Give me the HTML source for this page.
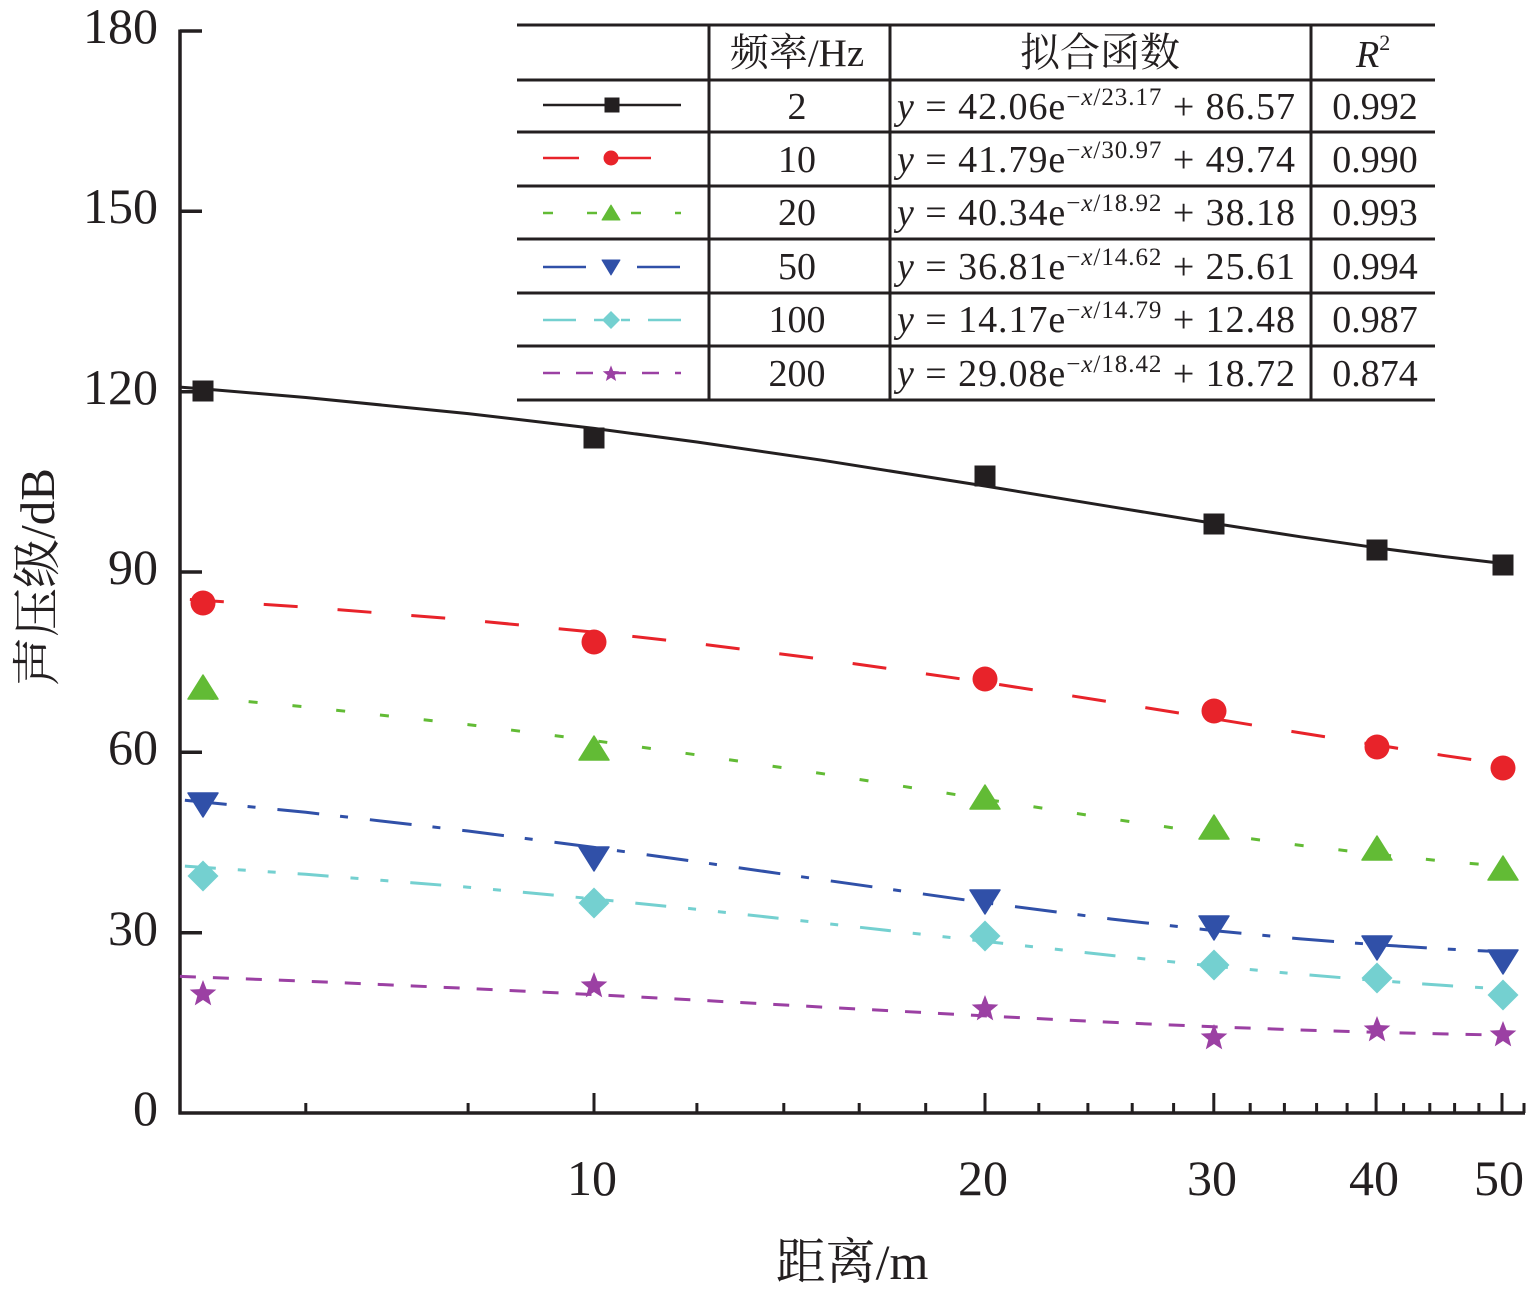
<!DOCTYPE html>
<html>
<head>
<meta charset="utf-8">
<style>
  html,body{margin:0;padding:0;background:#fff;}
  svg{display:block;}
  text{font-family:"Liberation Serif","Noto Serif CJK SC","Noto Sans CJK SC",serif;fill:#231f20;}
</style>
</head>
<body>
<svg width="1535" height="1296" viewBox="0 0 1535 1296" xmlns="http://www.w3.org/2000/svg">
<defs>
  <rect id="sq" x="-10.5" y="-10.5" width="21" height="21"/>
  <circle id="ci" cx="0" cy="0" r="12.5"/>
  <polygon id="tu" points="0,-12 15,12 -15,12" stroke-linejoin="round"/>
  <polygon id="td" points="0,12 15,-12 -15,-12" stroke-linejoin="round"/>
  <polygon id="di" points="0,-15.5 15.5,0 0,15.5 -15.5,0"/>
  <polygon id="st" points="0,-14 3.527,-4.854 13.315,-4.326 5.706,1.854 8.229,11.326 0,6 -8.229,11.326 -5.706,1.854 -13.315,-4.326 -3.527,-4.854"/>
</defs>
<rect width="1535" height="1296" fill="#fff"/>

<!-- Axes -->
<g stroke="#231f20" stroke-width="3.5" fill="none">
  <line x1="180" y1="29.5" x2="180" y2="1114.5"/>
  <line x1="178.5" y1="1113" x2="1525" y2="1113"/>
  <line x1="180" y1="31" x2="202" y2="31"/>
  <line x1="180" y1="211.3" x2="202" y2="211.3"/>
  <line x1="180" y1="391.7" x2="202" y2="391.7"/>
  <line x1="180" y1="572" x2="202" y2="572"/>
  <line x1="180" y1="752.3" x2="202" y2="752.3"/>
  <line x1="180" y1="932.7" x2="202" y2="932.7"/>
</g>
<g stroke="#231f20" stroke-width="3" fill="none">
  <line x1="594" y1="1113" x2="594" y2="1093"/>
  <line x1="985" y1="1113" x2="985" y2="1093"/>
  <line x1="1213.8" y1="1113" x2="1213.8" y2="1093"/>
  <line x1="1376.1" y1="1113" x2="1376.1" y2="1093"/>
  <line x1="1502" y1="1113" x2="1502" y2="1093"/>
  <line x1="305.8" y1="1113" x2="305.8" y2="1103"/>
  <line x1="468.1" y1="1113" x2="468.1" y2="1103"/>
  <line x1="696.9" y1="1113" x2="696.9" y2="1103"/>
  <line x1="783.8" y1="1113" x2="783.8" y2="1103"/>
  <line x1="859.2" y1="1113" x2="859.2" y2="1103"/>
  <line x1="925.7" y1="1113" x2="925.7" y2="1103"/>
  <line x1="1038.8" y1="1113" x2="1038.8" y2="1103"/>
  <line x1="1087.9" y1="1113" x2="1087.9" y2="1103"/>
  <line x1="1132.2" y1="1113" x2="1132.2" y2="1103"/>
  <line x1="1173.6" y1="1113" x2="1173.6" y2="1103"/>
  <line x1="1250.2" y1="1113" x2="1250.2" y2="1103"/>
  <line x1="1284.4" y1="1113" x2="1284.4" y2="1103"/>
  <line x1="1316.6" y1="1113" x2="1316.6" y2="1103"/>
  <line x1="1347.1" y1="1113" x2="1347.1" y2="1103"/>
  <line x1="1403.6" y1="1113" x2="1403.6" y2="1103"/>
  <line x1="1429.8" y1="1113" x2="1429.8" y2="1103"/>
  <line x1="1454.6" y1="1113" x2="1454.6" y2="1103"/>
  <line x1="1478.9" y1="1113" x2="1478.9" y2="1103"/>
  <line x1="1524" y1="1113" x2="1524" y2="1103"/>
</g>

<!-- Y tick labels -->
<g font-size="50" text-anchor="end">
  <text x="158" y="43">180</text>
  <text x="158" y="223">150</text>
  <text x="158" y="404">120</text>
  <text x="158" y="584">90</text>
  <text x="158" y="764">60</text>
  <text x="158" y="945">30</text>
  <text x="158" y="1125">0</text>
</g>
<!-- X tick labels -->
<g font-size="50" text-anchor="middle">
  <text x="592" y="1195">10</text>
  <text x="983" y="1195">20</text>
  <text x="1212" y="1195">30</text>
  <text x="1374" y="1195">40</text>
  <text x="1499" y="1195">50</text>
</g>

<!-- Axis titles -->
<text x="852" y="1279" font-size="50" text-anchor="middle">距离/m</text>
<text transform="translate(54,577) rotate(-90)" font-size="49" text-anchor="middle">声压级/dB</text>

<!-- Curves -->
<g fill="none" stroke-width="3">
  <polyline stroke="#231f20" points="179.9,387.1 203,388.9 305.8,397.5 468.1,413.6 594,428.4 696.9,442.0 822.7,460.3 985,486.0 1110.9,506.7 1213.8,523.4 1300.7,536.8 1376.1,547.7 1442.5,556.4 1502,563.4"/>
  <polyline stroke="#e8232a" stroke-dasharray="34 40" stroke-dashoffset="-10" points="179.9,598.9 305.8,607.1 468.1,620.0 594,632.1 696.9,643.5 822.7,659.2 985,682.3 1110.9,702.0 1213.8,718.7 1300.7,732.9 1376.1,744.9 1442.5,755.3 1502,764.0"/>
  <polyline stroke="#62bb35" stroke-dasharray="9 35" stroke-dashoffset="-25" points="179.9,695.4 305.8,706.9 468.1,724.6 594,740.6 696.9,754.9 822.7,773.7 985,799.2 1110.9,818.8 1213.8,833.8 1300.7,845.4 1376.1,854.2 1442.5,861.0 1502,866.2"/>
  <polyline stroke="#3050a8" stroke-dasharray="42 21 8 22" stroke-dashoffset="-5" points="179.9,799.7 305.8,812.3 468.1,831.0 594,847.4 696.9,861.7 822.7,879.8 985,902.7 1110.9,919.0 1213.8,930.6 1300.7,938.9 1376.1,944.7 1442.5,948.8 1502,951.8"/>
  <polyline stroke="#74d0d0" stroke-dasharray="31 22 8 22 8 22" stroke-dashoffset="-5" points="179.9,865.8 305.8,874.3 468.1,887.2 594,898.9 696.9,909.3 822.7,923.1 985,941.4 1110.9,955.4 1213.8,966.2 1300.7,974.3 1376.1,980.5 1442.5,985.3 1502,988.9"/>
  <polyline stroke="#9b40a3" stroke-dasharray="16 17" points="179.9,976.4 305.8,981.2 468.1,988.4 594,994.6 696.9,1000.1 822.7,1007.1 985,1015.9 1110.9,1022.3 1213.8,1026.8 1300.7,1030.0 1376.1,1032.3 1442.5,1033.9 1502,1035.1"/>
</g>

<!-- Markers -->
<g fill="#231f20">
  <use href="#sq" x="203" y="391"/><use href="#sq" x="594" y="438"/><use href="#sq" x="985" y="476"/>
  <use href="#sq" x="1214" y="524"/><use href="#sq" x="1377" y="550"/><use href="#sq" x="1503" y="565"/>
</g>
<g fill="#e8232a">
  <use href="#ci" x="203" y="603"/><use href="#ci" x="594" y="642"/><use href="#ci" x="985" y="679"/>
  <use href="#ci" x="1214" y="711"/><use href="#ci" x="1377" y="747"/><use href="#ci" x="1503" y="768"/>
</g>
<g fill="#62bb35" stroke="#62bb35" stroke-width="1.5">
  <use href="#tu" x="203" y="687"/><use href="#tu" x="594" y="748"/><use href="#tu" x="985" y="797"/>
  <use href="#tu" x="1214" y="827"/><use href="#tu" x="1377" y="848"/><use href="#tu" x="1503" y="868"/>
</g>
<g fill="#3050a8" stroke="#3050a8" stroke-width="1.5">
  <use href="#td" x="203" y="805"/><use href="#td" x="594" y="859"/><use href="#td" x="985" y="902"/>
  <use href="#td" x="1214" y="928"/><use href="#td" x="1377" y="948"/><use href="#td" x="1503" y="962"/>
</g>
<g fill="#74d0d0">
  <use href="#di" x="203" y="876"/><use href="#di" x="594" y="903"/><use href="#di" x="985" y="936"/>
  <use href="#di" x="1214" y="965"/><use href="#di" x="1377" y="978"/><use href="#di" x="1503" y="995"/>
</g>
<g fill="#9b40a3">
  <use href="#st" x="203" y="994"/><use href="#st" x="594" y="986"/><use href="#st" x="985" y="1009"/>
  <use href="#st" x="1214" y="1038"/><use href="#st" x="1377" y="1030"/><use href="#st" x="1503" y="1035"/>
</g>

<!-- Table -->
<rect x="517" y="24" width="918" height="376" fill="#fff"/>
<g stroke="#231f20" stroke-width="3">
  <line x1="517" y1="25" x2="1435" y2="25"/>
  <line x1="517" y1="80" x2="1435" y2="80"/>
  <line x1="517" y1="132" x2="1435" y2="132"/>
  <line x1="517" y1="186" x2="1435" y2="186"/>
  <line x1="517" y1="239" x2="1435" y2="239"/>
  <line x1="517" y1="293" x2="1435" y2="293"/>
  <line x1="517" y1="346" x2="1435" y2="346"/>
  <line x1="517" y1="400" x2="1435" y2="400"/>
  <line x1="709" y1="24" x2="709" y2="401"/>
  <line x1="890" y1="24" x2="890" y2="401"/>
  <line x1="1311" y1="24" x2="1311" y2="401"/>
</g>

<!-- Legend samples -->
<g fill="none" stroke-width="2.5">
  <line x1="543" y1="105" x2="681" y2="105" stroke="#231f20"/>
  <line x1="543" y1="158" x2="681" y2="158" stroke="#e8232a" stroke-dasharray="36 36"/>
  <line x1="543" y1="213" x2="681" y2="213" stroke="#62bb35" stroke-dasharray="10 34"/>
  <line x1="543" y1="267" x2="681" y2="267" stroke="#3050a8" stroke-dasharray="43 21 8 22"/>
  <line x1="543" y1="320" x2="681" y2="320" stroke="#74d0d0" stroke-dasharray="33 18 9 18 9 18"/>
  <line x1="543" y1="373" x2="681" y2="373" stroke="#9b40a3" stroke-dasharray="17 16"/>
</g>
<rect x="604.5" y="97.5" width="15" height="15" fill="#231f20"/>
<circle cx="611" cy="158" r="7.5" fill="#e8232a"/>
<polygon points="611,205 620,220 602,220" fill="#62bb35" stroke="#62bb35" stroke-linejoin="round" stroke-width="1"/>
<polygon points="611,275 620,260 602,260" fill="#3050a8" stroke="#3050a8" stroke-linejoin="round" stroke-width="1"/>
<polygon points="611,311 620,320 611,329 602,320" fill="#74d0d0"/>
<g transform="translate(611,374) scale(0.62)"><use href="#st" fill="#9b40a3"/></g>

<!-- Table text -->
<text x="797" y="66" font-size="39" text-anchor="middle">频率/Hz</text>
<text x="1100" y="66" font-size="40" text-anchor="middle">拟合函数</text>
<text x="1356" y="67" font-size="38" font-style="italic">R<tspan font-size="22" font-style="normal" dy="-17">2</tspan></text>

<g font-size="38" text-anchor="middle">
  <text x="797" y="119">2</text>
  <text x="797" y="172">10</text>
  <text x="797" y="225">20</text>
  <text x="797" y="279">50</text>
  <text x="797" y="332">100</text>
  <text x="797" y="386">200</text>
  <text x="1375" y="119">0.992</text>
  <text x="1375" y="172">0.990</text>
  <text x="1375" y="225">0.993</text>
  <text x="1375" y="279">0.994</text>
  <text x="1375" y="332">0.987</text>
  <text x="1375" y="386">0.874</text>
</g>

<g font-size="38">
  <text x="897" y="119" textLength="398" lengthAdjust="spacing"><tspan font-style="italic">y</tspan> = 42.06e<tspan font-size="25" dy="-14">−<tspan font-style="italic">x</tspan>/23.17</tspan><tspan dy="14"> + 86.57</tspan></text>
  <text x="897" y="172" textLength="398" lengthAdjust="spacing"><tspan font-style="italic">y</tspan> = 41.79e<tspan font-size="25" dy="-14">−<tspan font-style="italic">x</tspan>/30.97</tspan><tspan dy="14"> + 49.74</tspan></text>
  <text x="897" y="225" textLength="398" lengthAdjust="spacing"><tspan font-style="italic">y</tspan> = 40.34e<tspan font-size="25" dy="-14">−<tspan font-style="italic">x</tspan>/18.92</tspan><tspan dy="14"> + 38.18</tspan></text>
  <text x="897" y="279" textLength="398" lengthAdjust="spacing"><tspan font-style="italic">y</tspan> = 36.81e<tspan font-size="25" dy="-14">−<tspan font-style="italic">x</tspan>/14.62</tspan><tspan dy="14"> + 25.61</tspan></text>
  <text x="897" y="332" textLength="398" lengthAdjust="spacing"><tspan font-style="italic">y</tspan> = 14.17e<tspan font-size="25" dy="-14">−<tspan font-style="italic">x</tspan>/14.79</tspan><tspan dy="14"> + 12.48</tspan></text>
  <text x="897" y="386" textLength="398" lengthAdjust="spacing"><tspan font-style="italic">y</tspan> = 29.08e<tspan font-size="25" dy="-14">−<tspan font-style="italic">x</tspan>/18.42</tspan><tspan dy="14"> + 18.72</tspan></text>
</g>
</svg>
</body>
</html>
